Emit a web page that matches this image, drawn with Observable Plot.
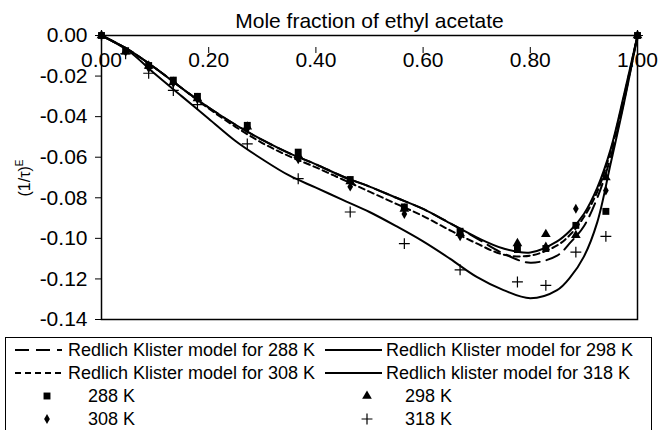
<!DOCTYPE html>
<html><head><meta charset="utf-8">
<script src="https://cdn.jsdelivr.net/npm/d3@7"></script>
<script src="https://cdn.jsdelivr.net/npm/@observablehq/plot@0.6"></script>
<style>
body{margin:0;background:#fff;font-family:"Liberation Sans",Arial,sans-serif;}
#wrap{position:relative;width:658px;height:430px;overflow:hidden;background:#fff;}
#legendBox{position:absolute;left:5px;top:337px;width:647px;height:110px;border:1px solid #000;box-sizing:border-box;}
.item{position:absolute;font-size:18px;line-height:22px;color:#000;white-space:nowrap;}
.sw{position:absolute;}
</style></head><body><div id="wrap"><div id="chart"></div><div id="legendBox"></div></div>
<script>
// ---- data ----
const curveX = [0, 0.05, 0.1, 0.15, 0.2, 0.25, 0.3, 0.35, 0.4, 0.45, 0.5, 0.55, 0.6, 0.65, 0.7, 0.75, 0.8, 0.85, 0.875, 0.9, 0.925, 0.95, 0.975, 1];
const rk288 = [0, -0.007, -0.016, -0.026, -0.0355, -0.044, -0.0515, -0.058, -0.0635, -0.0695, -0.0745, -0.080, -0.0855, -0.0925, -0.100, -0.1075, -0.112, -0.1085, -0.102, -0.094, -0.080, -0.060, -0.032, 0];
const rk298 = [0, -0.007, -0.016, -0.026, -0.0355, -0.044, -0.0515, -0.058, -0.0635, -0.0695, -0.0745, -0.080, -0.0855, -0.0925, -0.0995, -0.105, -0.107, -0.1015, -0.096, -0.088, -0.075, -0.056, -0.029, 0];
const rk308 = [0, -0.007, -0.016, -0.026, -0.036, -0.045, -0.053, -0.0595, -0.065, -0.071, -0.077, -0.083, -0.089, -0.096, -0.1025, -0.108, -0.1085, -0.1035, -0.098, -0.0895, -0.077, -0.057, -0.030, 0];
const rk318 = [0, -0.0075, -0.019, -0.030, -0.041, -0.052, -0.061, -0.069, -0.075, -0.081, -0.087, -0.094, -0.1015, -0.110, -0.119, -0.1255, -0.1295, -0.1255, -0.119, -0.109, -0.092, -0.063, -0.033, 0];

const pointX = [0, 0.045, 0.088, 0.134, 0.179, 0.272, 0.367, 0.464, 0.565, 0.669, 0.776, 0.829, 0.885, 0.941, 1];
const pts288 = [0, -0.0075, -0.0148, -0.022, -0.030, -0.0443, -0.0575, -0.071, -0.0845, -0.0965, -0.1055, -0.105, -0.0936, -0.0867, 0];
const pts298 = [0, -0.008, -0.015, -0.023, -0.031, -0.045, -0.059, -0.072, -0.0855, -0.0975, -0.1025, -0.098, -0.0985, -0.070, 0];
const pts308 = [0, -0.008, -0.016, -0.0235, -0.0315, -0.046, -0.061, -0.0745, -0.088, -0.099, -0.104, -0.104, -0.0854, -0.0764, 0];
const pts318 = [0, -0.009, -0.0186, -0.0271, -0.0341, -0.0534, -0.0706, -0.087, -0.1026, -0.1155, -0.1215, -0.1232, -0.1068, -0.099, 0];

const xTicks = [0, 0.2, 0.4, 0.6, 0.8, 1.0];
const yTicks = [0, -0.02, -0.04, -0.06, -0.08, -0.10, -0.12, -0.14];
const xTitle = "Mole fraction of ethyl acetate";
const yTitleMain = "(1/τ)";
const yTitleSup = "E";
const lineLabels = ["Redlich Klister model for 288 K", "Redlich Klister model for 298 K", "Redlich Klister model for 308 K", "Redlich klister model for 318 K"];
const pointLabels = ["288 K", "298 K", "308 K", "318 K"];

// ---- styles ----
const curveSpecs = [
  {ys: rk288, dash: "14,7"},
  {ys: rk298, dash: null},
  {ys: rk308, dash: "6,4"},
  {ys: rk318, dash: null}
];
const pointSpecs = [
  {ys: pts288, symbol: "square", r: 3.9, fill: "black", stroke: "none", sw: 0},
  {ys: pts298, symbol: "triangle", r: 3.6, fill: "black", stroke: "none", sw: 0},
  {ys: pts308, symbol: "diamond", r: 3.0, fill: "black", stroke: "none", sw: 0},
  {ys: pts318, symbol: "plus", r: 3.6, fill: "none", stroke: "black", sw: 1.2}
];

const fmt = d => d.toFixed(2);

const chart = Plot.plot({
  width: 658,
  height: 337,
  marginTop: 35,
  marginBottom: 18,
  marginLeft: 101,
  marginRight: 21,
  style: {fontFamily: "Liberation Sans, Arial, sans-serif", background: "white", color: "black"},
  x: {domain: [0, 1]},
  y: {domain: [-0.14, 0]},
  marks: [
    ...curveSpecs.map(c => Plot.line(curveX, {x: d => d, y: (d, i) => c.ys[i], curve: "catmull-rom", stroke: "black", strokeWidth: 2, strokeDasharray: c.dash})),
    ...pointSpecs.map(p => Plot.dot(pointX, {x: d => d, y: (d, i) => p.ys[i], symbol: p.symbol, r: p.r, fill: p.fill, stroke: p.stroke, strokeWidth: p.sw})),
    Plot.axisY({ticks: yTicks, tickFormat: fmt, tickSize: 6, tickPadding: 8, fontSize: 21, label: null}),
    Plot.axisX({anchor: "top", ticks: xTicks, tickFormat: fmt, tickSize: -6, tickPadding: 0, dy: 11, lineAnchor: "top", fontSize: 21,
      label: xTitle, labelAnchor: "center", labelOffset: 22, labelArrow: false}),
    Plot.frame({stroke: "black", strokeWidth: 1.5})
  ]
});
document.getElementById("chart").appendChild(chart);

// y-axis title with superscript
const svg = d3.select(chart);
const yt = svg.append("text")
  .attr("transform", "translate(30,178) rotate(-90)")
  .attr("text-anchor", "middle")
  .attr("font-size", 16)
  .attr("font-family", "Liberation Sans, Arial, sans-serif")
  .attr("fill", "black");
yt.append("tspan").text(yTitleMain);
yt.append("tspan").attr("dy", -7).attr("font-size", 10).text(yTitleSup);

// ---- legend ----
const wrap = document.getElementById("wrap");
const rowY = [349.5, 372.5, 395.5, 418.5];
function addText(txt, left, cy) {
  const d = document.createElement("div");
  d.className = "item";
  d.style.left = left + "px";
  d.style.top = (cy - 11) + "px";
  d.textContent = txt;
  wrap.appendChild(d);
}
function addLineSwatch(x0, x1, cy, dash) {
  const s = d3.create("svg").attr("class", "sw").attr("width", x1 - x0).attr("height", 10)
    .style("left", x0 + "px").style("top", (cy - 5) + "px");
  s.append("line").attr("x1", 0).attr("x2", x1 - x0).attr("y1", 5).attr("y2", 5)
    .attr("stroke", "black").attr("stroke-width", 2).attr("stroke-dasharray", dash);
  wrap.appendChild(s.node());
}
const symMap = {square: d3.symbolSquare, triangle: d3.symbolTriangle, diamond: d3.symbolDiamond, plus: d3.symbolPlus};
function addSymbol(cx, cy, p) {
  const s = d3.create("svg").attr("class", "sw").attr("width", 20).attr("height", 20)
    .style("left", (cx - 10) + "px").style("top", (cy - 10) + "px");
  s.append("path").attr("transform", "translate(10,10)")
    .attr("d", d3.symbol(symMap[p.symbol], Math.PI * p.r * p.r)())
    .attr("fill", p.fill).attr("stroke", p.stroke).attr("stroke-width", p.sw);
  wrap.appendChild(s.node());
}
// line entries
const lineCols = [{x0: 15, x1: 62, tx: 68}, {x0: 325, x1: 382, tx: 386}];
lineLabels.forEach((lab, i) => {
  const col = lineCols[i % 2], row = Math.floor(i / 2);
  addLineSwatch(col.x0, col.x1, rowY[row], curveSpecs[i].dash);
  addText(lab, col.tx, rowY[row]);
});
const ptCols = [{cx: 47, tx: 88}, {cx: 367, tx: 405}];
pointLabels.forEach((lab, i) => {
  const col = ptCols[i % 2], row = 2 + Math.floor(i / 2);
  addSymbol(col.cx, rowY[row], pointSpecs[i]);
  addText(lab, col.tx, rowY[row]);
});
</script>
</body></html>
